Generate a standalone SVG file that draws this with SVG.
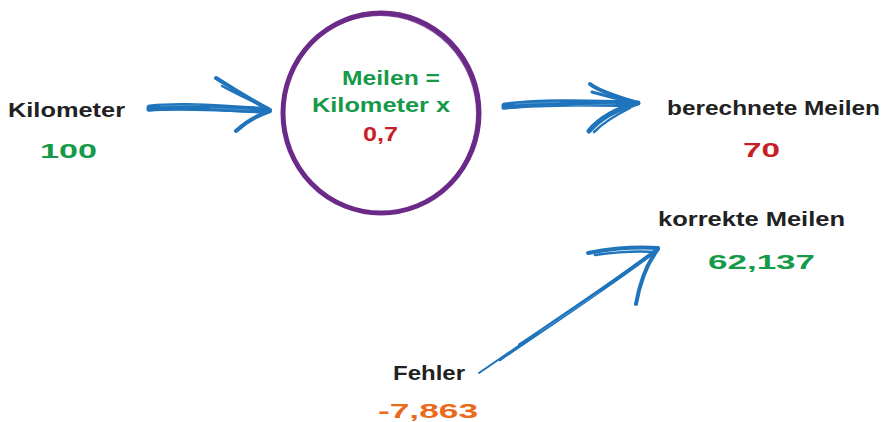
<svg xmlns="http://www.w3.org/2000/svg" width="885" height="422" viewBox="0 0 885 422">
<style>
text{font-family:"Liberation Sans","DejaVu Sans",sans-serif;font-weight:bold;font-size:21px;}
.lbl{fill:#222222;}
.grn{fill:#17994a;}
.red{fill:#c81e2a;}
.org{fill:#ea6a1c;}
.shaft{fill:none;stroke:#1f74bb;stroke-linecap:round;stroke-linejoin:round;}
.tex{fill:none;stroke:#5a9fd6;stroke-width:1;stroke-linecap:round;opacity:0.7;}
.ring{fill:none;stroke:#6b2a88;}
</style>
<rect width="885" height="422" fill="#ffffff"/>
<g id="connectors">
  <g id="arrow-km-formula">
    <path class="shaft" stroke-width="7" d="M150,108 C185,104 225,109 262,110"/>
    <path class="shaft" stroke-width="3" d="M148,110 C190,107 228,112 268,111"/>
    <path class="shaft" stroke-width="4" d="M216,78 Q244,96 270,110"/>
    <path class="shaft" stroke-width="2.5" d="M222,86 Q248,100 268,108"/>
    <path class="shaft" stroke-width="4" d="M270,111 Q250,118 236,131"/>
    <path class="tex" d="M160,106 L200,105 M210,108 L250,110"/>
  </g>
  <g id="arrow-formula-result">
    <path class="shaft" stroke-width="7" d="M505,106 C545,101 590,103 632,104"/>
    <path class="shaft" stroke-width="3" d="M503,108 C550,104 595,106 638,103"/>
    <path class="shaft" stroke-width="4" d="M590,84 Q600,92 638,103"/>
    <path class="shaft" stroke-width="3" d="M592,92 Q612,98 634,102"/>
    <path class="shaft" stroke-width="5" d="M638,103 Q605,112 589,131"/>
    <path class="shaft" stroke-width="2.5" d="M630,108 Q606,120 594,132"/>
    <path class="tex" d="M515,104 L560,102 M570,106 L615,104"/>
  </g>
  <g id="arrow-error-correct">
    <path class="shaft" stroke-width="2" d="M479,373 L530,338"/>
    <path class="shaft" stroke-width="4" d="M520,345 C560,318 610,285 654,252"/>
    <path class="shaft" stroke-width="2.5" d="M500,360 C550,325 605,290 657,249"/>
    <path class="shaft" stroke-width="4" d="M588,253 Q625,246 658,248"/>
    <path class="shaft" stroke-width="2.5" d="M595,255 Q630,250 655,252"/>
    <path class="shaft" stroke-width="4" d="M658,249 Q642,270 636,304"/>
    <path class="tex" d="M540,332 L600,292"/>
  </g>
</g>
<g id="node-kilometer">
  <text class="lbl" x="8" y="117" textLength="117" lengthAdjust="spacingAndGlyphs">Kilometer</text>
  <text class="grn" x="40" y="158" textLength="57" lengthAdjust="spacingAndGlyphs">100</text>
</g>
<g id="node-formula">
  <ellipse class="ring" stroke-width="5" cx="381" cy="113" rx="98" ry="100"/>
  <ellipse class="ring" stroke-width="2" cx="380" cy="114" rx="97" ry="99" opacity="0.8"/>
  <text class="grn" x="342" y="85" textLength="98" lengthAdjust="spacingAndGlyphs">Meilen =</text>
  <text class="grn" x="312" y="112" textLength="138" lengthAdjust="spacingAndGlyphs">Kilometer x</text>
  <text class="red" x="363" y="141" textLength="35" lengthAdjust="spacingAndGlyphs">0,7</text>
</g>
<g id="node-computed">
  <text class="lbl" x="667" y="115" textLength="213" lengthAdjust="spacingAndGlyphs">berechnete Meilen</text>
  <text class="red" x="743" y="157" textLength="37" lengthAdjust="spacingAndGlyphs">70</text>
</g>
<g id="node-correct">
  <text class="lbl" x="658" y="226" textLength="187" lengthAdjust="spacingAndGlyphs">korrekte Meilen</text>
  <text class="grn" x="708" y="269" textLength="107" lengthAdjust="spacingAndGlyphs">62,137</text>
</g>
<g id="node-error">
  <text class="lbl" x="393" y="380" textLength="72" lengthAdjust="spacingAndGlyphs">Fehler</text>
  <text class="org" x="378" y="418" textLength="100" lengthAdjust="spacingAndGlyphs">-7,863</text>
</g>
</svg>
